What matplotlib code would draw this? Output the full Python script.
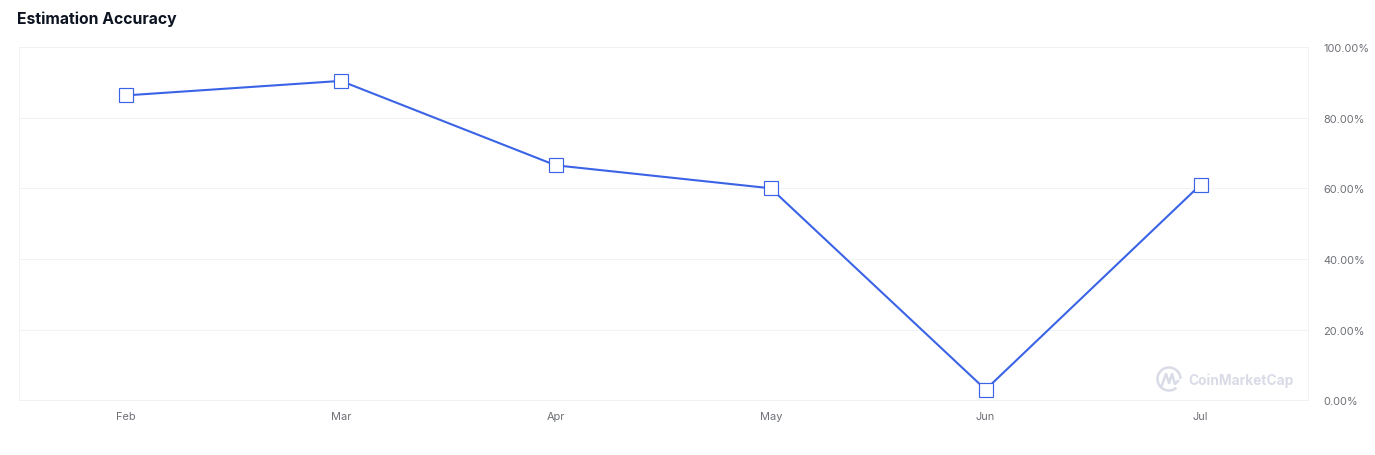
import matplotlib
matplotlib.use("Agg")
import matplotlib.pyplot as plt
from matplotlib.patches import Arc
from matplotlib.lines import Line2D

months = ["Feb", "Mar", "Apr", "May", "Jun", "Jul"]
accuracy = [86.3, 90.4, 66.5, 60.0, 3.0, 61.0]
y_ticks = [0, 20, 40, 60, 80, 100]
y_labels = ["0.00%", "20.00%", "40.00%", "60.00%", "80.00%", "100.00%"]

W, H = 1375, 456
plt.rcParams["font.family"] = ["Inter", "DejaVu Sans"]
fig = plt.figure(figsize=(W / 100, H / 100), dpi=100, facecolor="white")
ax = fig.add_axes([18.5 / W, 1 - 401.2 / H, (1308 - 18.5) / W, (401.2 - 48) / H])
x = list(range(len(months)))
ax.plot(x, accuracy, color="#3B63E6", lw=1.5, marker="s", ms=9.4, mfc="white",
        mec="#3B63E6", mew=0.85, zorder=3, clip_on=False)
ax.set_xlim(-0.5, 5.5)
ax.set_ylim(0, 100)
ax.set_xticks(x, months)
ax.set_yticks(y_ticks, y_labels)
ax.yaxis.tick_right()
ax.grid(axis="y", color="#F1F2F4", lw=0.7)
ax.set_axisbelow(True)
for s in ax.spines.values():
    s.set_color("#F1F2F4")
    s.set_linewidth(0.7)
ax.tick_params(axis="both", length=0, labelsize=7.9, labelcolor="#6D7076")
ax.tick_params(axis="x", pad=7.5)
ax.tick_params(axis="y", pad=11)

fig.text(17 / W, 1 - 19 / H, "Estimation Accuracy", fontsize=11.35, fontweight="bold",
         color="#0D1421", va="center", ha="left")

# Watermark, placed in pixel coordinates
wm = "#D9DBE7"
pix = fig.add_axes([0, 0, 1, 1], facecolor="none")
pix.set_xlim(0, W)
pix.set_ylim(H, 0)
pix.axis("off")
pix.add_patch(Arc((1169, 380), 23, 23, theta1=50, theta2=360, color=wm, lw=1.8))
pix.add_line(Line2D([1162, 1166, 1169, 1172, 1175, 1178],
                    [386, 375, 384, 375, 385, 382], color=wm, lw=1.8))
pix.text(1188, 381, "CoinMarketCap", fontsize=9.9, fontweight="bold", color=wm,
         va="center", ha="left")

fig.savefig("out.png", dpi=100)
